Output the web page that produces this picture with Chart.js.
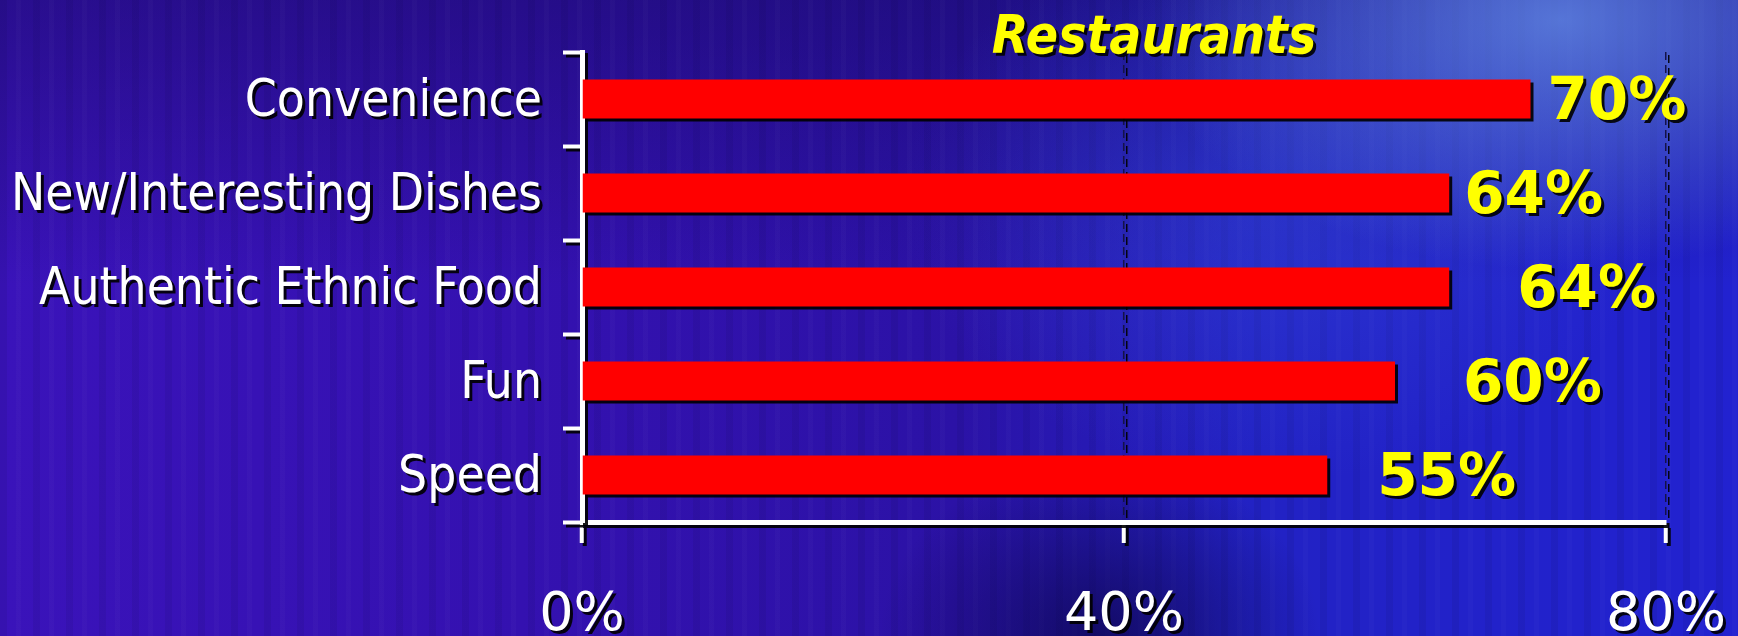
<!DOCTYPE html>
<html lang="en">

<head>
    <meta charset="UTF-8">
    <title>Restaurants</title>
    <script src="https://cdn.jsdelivr.net/npm/chart.js"></script>
    <style>
        html, body {
            margin: 0;
            padding: 0;
            overflow: hidden;
        }

        body {
            width: 1738px;
            height: 636px;
            background:
                radial-gradient(ellipse 420px 250px at 1560px 20px, rgba(100, 140, 230, 0.8), rgba(100, 140, 230, 0) 100%),
                radial-gradient(ellipse 380px 280px at 1280px 200px, rgba(55, 75, 220, 0.45), rgba(55, 75, 220, 0) 100%),
                radial-gradient(ellipse 220px 180px at 1100px 636px, rgba(10, 4, 70, 0.7), rgba(10, 4, 70, 0) 100%),
                repeating-linear-gradient(90deg, rgba(0, 0, 40, 0.07) 0 7px, rgba(0, 0, 0, 0) 7px 16px, rgba(255, 255, 255, 0.02) 16px 21px, rgba(0, 0, 0, 0) 21px 33px),
                linear-gradient(to bottom, rgba(20, 8, 90, 0.45) 0%, rgba(20, 8, 90, 0) 45%),
                linear-gradient(to right, #3a13ba 0%, #3411b0 30%, #2b12a6 55%, #2222c4 72%, #2222d0 100%);
        }

        canvas {
            display: block;
        }
    </style>
</head>

<body>
    <canvas id="restaurantsChart" width="1738" height="636"></canvas>

    <script>
        // chart data
        const categories = ["Convenience", "New/Interesting Dishes", "Authentic Ethnic Food", "Fun", "Speed"];
        const percentages = [70, 64, 64, 60, 55];
        const xTickValues = [0, 40, 80];
        const chartTitle = "Restaurants";

        // gap between bar end and its value label (px)
        const labelGaps = [17, 15, 68, 68, 50];

        const catFont = '"DejaVu Sans Condensed", "DejaVu Sans", sans-serif';
        const plainFont = '"DejaVu Sans", sans-serif';

        // drop shadow on everything, like the slide
        const shadowPlugin = {
            id: 'shadow',
            beforeDraw(chart) {
                const ctx = chart.ctx;
                ctx.shadowColor = 'rgba(0, 0, 0, 0.9)';
                ctx.shadowOffsetX = 3;
                ctx.shadowOffsetY = 3;
                ctx.shadowBlur = 0;
            },
            afterDraw(chart) {
                const ctx = chart.ctx;
                const area = chart.chartArea;
                const meta = chart.getDatasetMeta(0);

                ctx.save();
                // value labels
                ctx.fillStyle = '#FFFF00';
                ctx.font = 'bold 58px ' + plainFont;
                ctx.textAlign = 'left';
                ctx.textBaseline = 'middle';
                meta.data.forEach((bar, i) => {
                    ctx.fillText(percentages[i] + '%', bar.x + labelGaps[i], bar.y + 5);
                });

                // title
                ctx.font = 'italic bold 53px ' + catFont;
                ctx.textAlign = 'center';
                ctx.textBaseline = 'alphabetic';
                ctx.fillText(chartTitle, (area.left + area.right) / 2 + 30, 53);
                ctx.restore();

                ctx.shadowColor = 'rgba(0, 0, 0, 0)';
                ctx.shadowOffsetX = 0;
                ctx.shadowOffsetY = 0;
            }
        };

        const ctx = document.getElementById("restaurantsChart").getContext("2d");
        new Chart(ctx, {
            type: "bar",
            data: {
                labels: categories,
                datasets: [{
                    label: "Restaurants",
                    data: percentages,
                    backgroundColor: "#FF0000",
                    borderWidth: 0,
                    barPercentage: 0.83,
                    categoryPercentage: 0.5
                }]
            },
            options: {
                indexAxis: 'y',
                responsive: false,
                animation: false,
                layout: {
                    padding: { top: 52, right: 72, bottom: 0, left: 0 }
                },
                plugins: {
                    legend: { display: false },
                    tooltip: { enabled: false },
                    title: { display: false }
                },
                scales: {
                    x: {
                        min: 0,
                        max: 80,
                        afterBuildTicks: (scale) => {
                            scale.ticks = xTickValues.map(v => ({ value: v }));
                        },
                        afterFit: (scale) => {
                            scale.height = 114;
                            scale.paddingLeft = 0;
                            scale.paddingRight = 0;
                        },
                        ticks: {
                            color: '#FFFFFF',
                            padding: 41,
                            font: { family: plainFont, size: 54 },
                            callback: (value) => value + '%'
                        },
                        grid: {
                            color: (c) => c.tick && c.tick.value === 0 ? 'rgba(0,0,0,0)' : '#14124a',
                            lineWidth: 1.5,
                            tickColor: '#FFFFFF',
                            tickWidth: 4,
                            tickLength: 21,
                            tickBorderDash: []
                        },
                        border: {
                            color: '#FFFFFF',
                            width: 5,
                            dash: [8, 5]
                        }
                    },
                    y: {
                        afterFit: (scale) => {
                            scale.width = 582;
                            scale.paddingTop = 0;
                            scale.paddingBottom = 0;
                        },
                        ticks: {
                            color: '#FFFFFF',
                            padding: 21,
                            labelOffset: 4,
                            font: { family: catFont, size: 51 }
                        },
                        grid: {
                            drawOnChartArea: false,
                            tickColor: '#FFFFFF',
                            tickWidth: 4,
                            tickLength: 19
                        },
                        border: {
                            color: '#FFFFFF',
                            width: 5
                        }
                    }
                }
            },
            plugins: [shadowPlugin]
        });
    </script>
</body>

</html>
